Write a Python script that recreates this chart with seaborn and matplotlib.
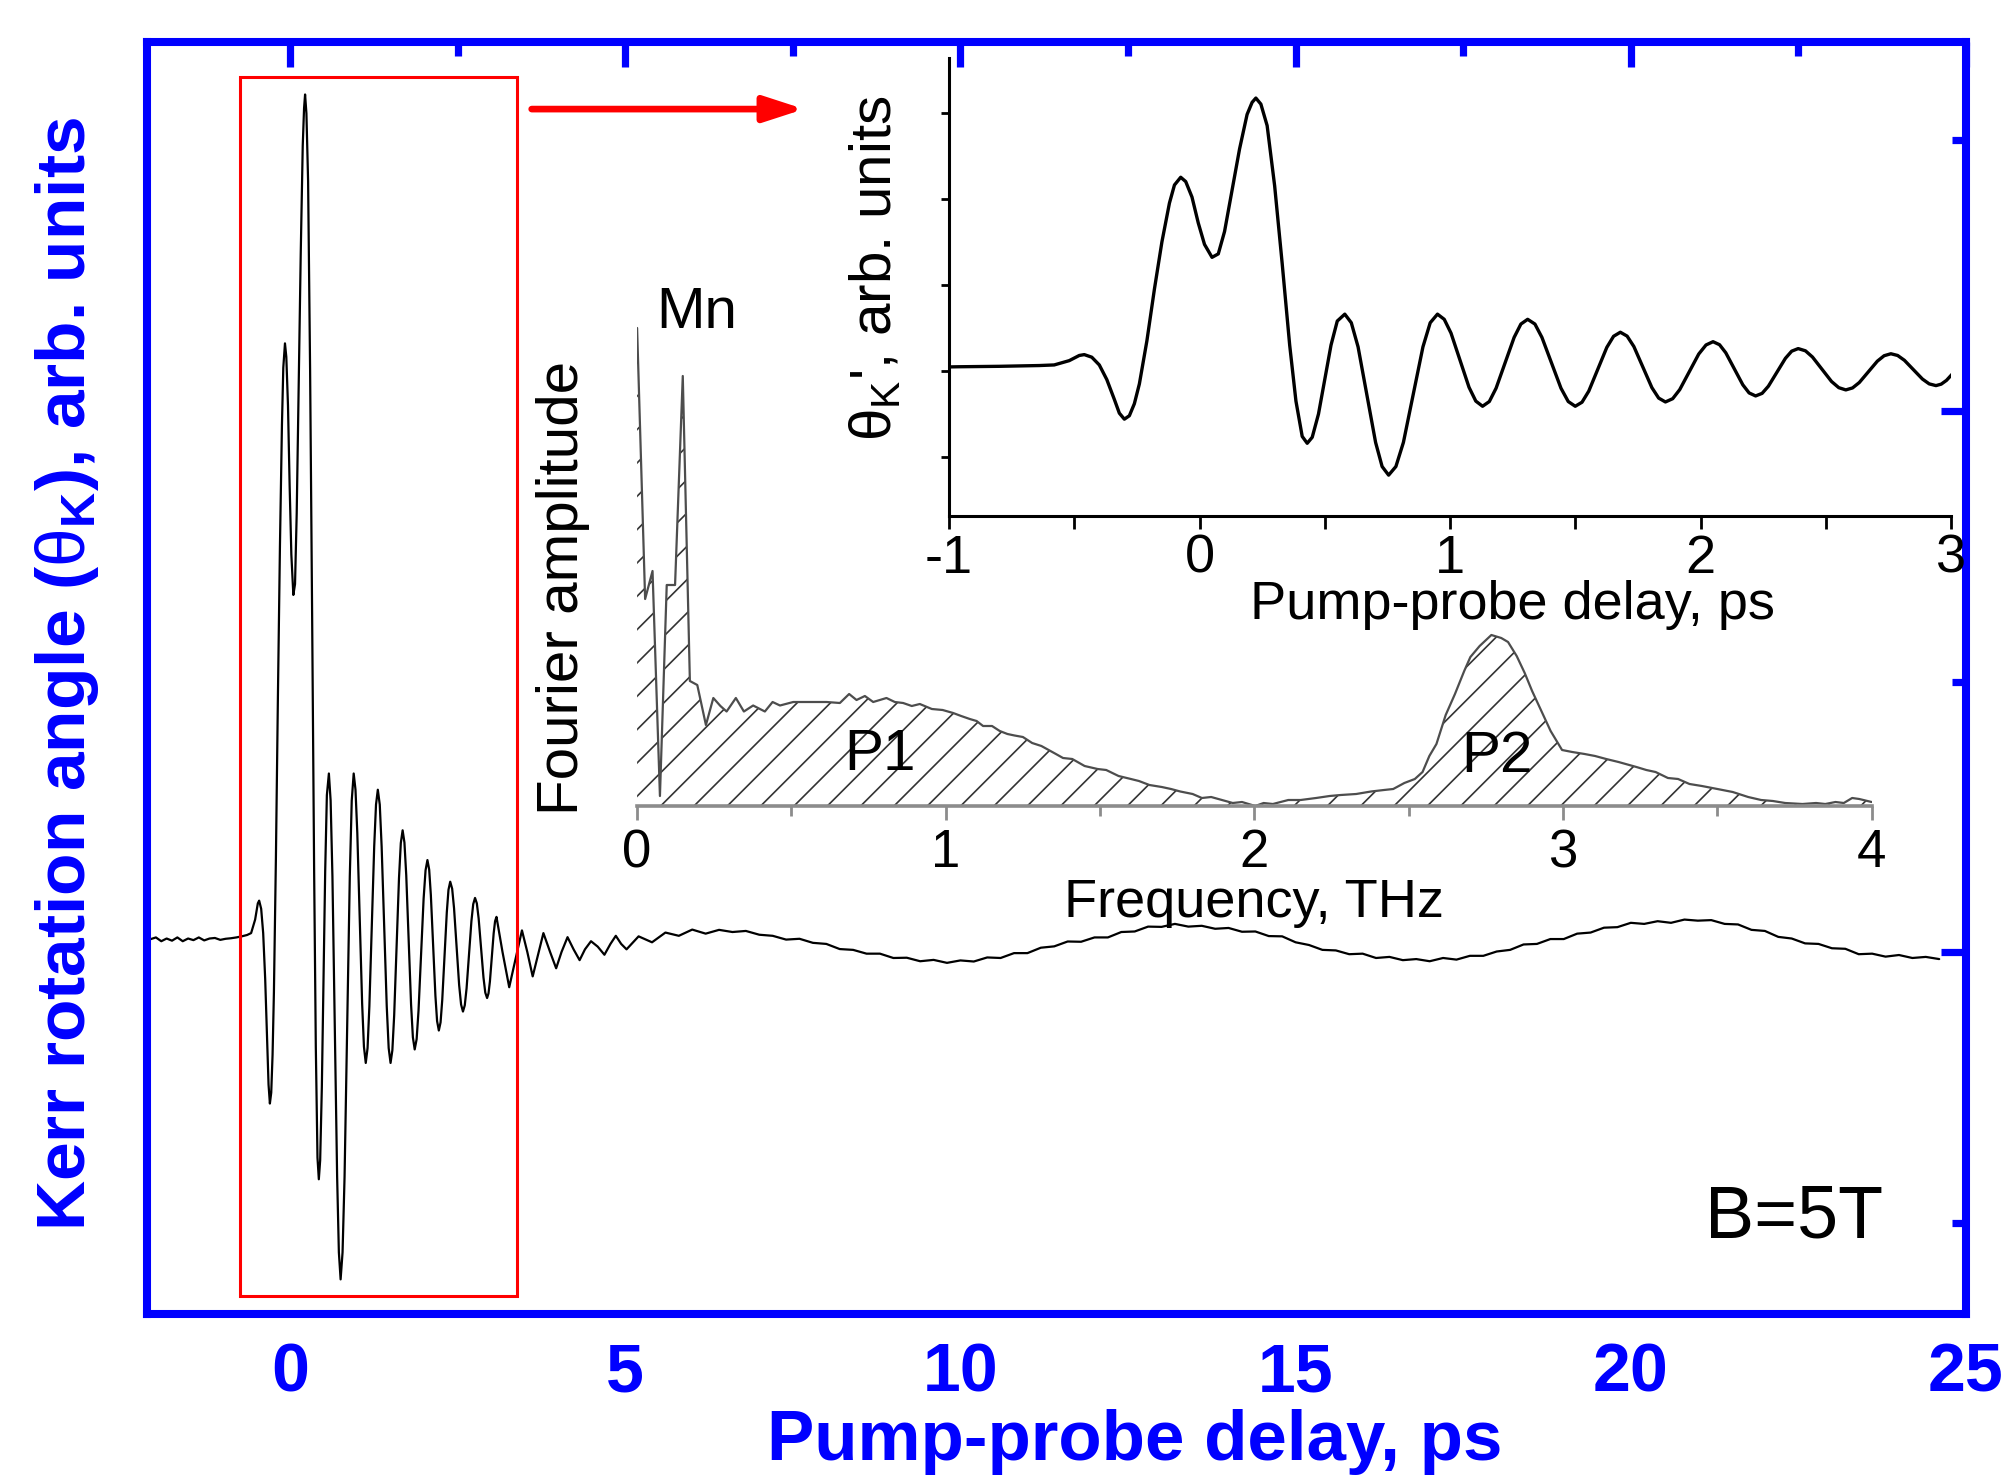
import numpy as np
import matplotlib
matplotlib.use("Agg")
import matplotlib.pyplot as plt
from matplotlib.patches import Rectangle
from matplotlib.ticker import MultipleLocator
import seaborn as sns

# ---- values ----
# Kerr rotation trace (pump-probe delay in ps, signal in arb. units)
pre_t = [-2.10, -2.00, -1.92, -1.84, -1.76, -1.68, -1.60, -1.52, -1.44, -1.36,
         -1.28, -1.20, -1.12, -1.04, -0.96, -0.88, -0.80, -0.72, -0.64, -0.58]
pre_v = [0.046, 0.054, 0.040, 0.050, 0.042, 0.054, 0.040, 0.050, 0.044, 0.054,
         0.043, 0.050, 0.052, 0.045, 0.049, 0.051, 0.054, 0.058, 0.063, 0.070]

burst_t = [-0.52, -0.48, -0.46, -0.43, -0.40, -0.37, -0.34,
           -0.32, -0.30, -0.28, -0.26, -0.24, -0.21, -0.18,
           -0.15, -0.12, -0.10, -0.075, -0.055, -0.03, -0.005,
           0.02, 0.05, 0.075, 0.10, 0.13, 0.16, 0.19,
           0.21, 0.225, 0.245, 0.27, 0.30, 0.33, 0.36,
           0.385, 0.41, 0.43, 0.45, 0.475, 0.50, 0.525,
           0.55, 0.58, 0.606, 0.633, 0.668, 0.703, 0.729,
           0.755, 0.784, 0.814, 0.853, 0.892, 0.921, 0.95,
           0.977, 1.004, 1.04, 1.076, 1.103, 1.13,
           1.157, 1.184, 1.22, 1.256, 1.283, 1.31,
           1.339, 1.367, 1.405, 1.443, 1.472, 1.50,
           1.527, 1.554, 1.59, 1.626, 1.653, 1.68,
           1.707, 1.734, 1.77, 1.806, 1.833, 1.86,
           1.889, 1.917, 1.955, 1.993, 2.022, 2.05,
           2.076, 2.101, 2.135, 2.169, 2.194, 2.22,
           2.246, 2.271, 2.305, 2.339, 2.364, 2.39,
           2.419, 2.447, 2.485, 2.523, 2.552, 2.58,
           2.607, 2.634, 2.67, 2.706, 2.733, 2.76,
           2.787, 2.814, 2.85, 2.886, 2.913, 2.94,
           2.961, 2.982, 3.01, 3.038, 3.059, 3.08,
           3.17, 3.27, 3.37, 3.46, 3.54, 3.62, 3.70, 3.78,
           3.88, 3.97, 4.05, 4.14, 4.23, 4.32, 4.40, 4.49,
           4.59, 4.69, 4.78, 4.86, 4.94, 5.02]
burst_v = [0.12, 0.18, 0.19, 0.16, 0.07, -0.10, -0.33,
           -0.49, -0.56, -0.52, -0.38, -0.15, 0.35, 0.95,
           1.50, 1.95, 2.16, 2.25, 2.20, 2.02, 1.72,
           1.47, 1.32, 1.36, 1.62, 2.10, 2.58, 2.98,
           3.12, 3.17, 3.10, 2.85, 2.15, 1.25, 0.30,
           -0.35, -0.76, -0.84, -0.77, -0.50, -0.10, 0.30,
           0.58, 0.66, 0.56, 0.28, -0.275, -0.83, -1.11,
           -1.21, -1.11, -0.83, -0.275, 0.28, 0.56, 0.66,
           0.60, 0.44, 0.125, -0.19, -0.35, -0.41,
           -0.355, -0.20, 0.095, 0.39, 0.545, 0.60,
           0.545, 0.39, 0.095, -0.20, -0.355, -0.41,
           -0.363, -0.234, 0.02, 0.274, 0.403, 0.45,
           0.405, 0.284, 0.045, -0.194, -0.315, -0.36,
           -0.322, -0.217, -0.01, 0.197, 0.302, 0.34,
           0.305, 0.211, 0.025, -0.161, -0.255, -0.29,
           -0.26, -0.177, -0.015, 0.147, 0.23, 0.26,
           0.234, 0.162, 0.02, -0.122, -0.194, -0.22,
           -0.197, -0.134, -0.01, 0.114, 0.177, 0.20,
           0.18, 0.124, 0.015, -0.094, -0.15, -0.17,
           -0.153, -0.109, -0.02, 0.069, 0.114, 0.13,
           0.00, -0.13, -0.02, 0.08, 0.00, -0.09, -0.01, 0.07,
           0.00, -0.06, 0.00, 0.055, 0.01, -0.03, 0.01, 0.04,
           0.02, -0.01, 0.03, 0.06, 0.03, 0.01]

tail_t = np.round(np.arange(5.2, 24.61, 0.2), 1)
tail_v = [0.058, 0.036, 0.072, 0.060, 0.083, 0.068, 0.082, 0.074, 0.078, 0.064,
          0.060, 0.046, 0.049, 0.034, 0.030, 0.011, 0.008, -0.006, -0.006, -0.022,
          -0.021, -0.034, -0.029, -0.040, -0.031, -0.035, -0.020, -0.022, -0.004, -0.004,
          0.016, 0.021, 0.039, 0.038, 0.054, 0.054, 0.074, 0.076, 0.094, 0.093,
          0.104, 0.094, 0.097, 0.086, 0.089, 0.075, 0.076, 0.059, 0.058, 0.036,
          0.026, 0.008, 0.006, -0.008, -0.006, -0.022, -0.018, -0.030, -0.026, -0.034,
          -0.022, -0.028, -0.014, -0.014, 0.002, 0.008, 0.028, 0.030, 0.048, 0.048,
          0.068, 0.072, 0.090, 0.092, 0.108, 0.104, 0.114, 0.108, 0.120, 0.116,
          0.118, 0.104, 0.102, 0.082, 0.078, 0.056, 0.050, 0.032, 0.030, 0.014,
          0.012, -0.008, -0.006, -0.017, -0.011, -0.022, -0.018, -0.026]

# Fourier spectrum of the trace (THz, arb. units)
freq_thz = [0.0, 0.026, 0.05, 0.074, 0.096, 0.123, 0.148, 0.171, 0.195, 0.223,
            0.247, 0.27, 0.29, 0.32, 0.346, 0.376, 0.414, 0.439, 0.463, 0.506,
            0.56, 0.614, 0.657, 0.687, 0.711, 0.738, 0.765, 0.808, 0.835, 0.862,
            0.89, 0.916, 0.955, 0.99, 1.024, 1.05, 1.078, 1.10, 1.121, 1.15,
            1.175, 1.2, 1.223, 1.25, 1.28, 1.31, 1.357, 1.38, 1.41, 1.45,
            1.492, 1.52, 1.56, 1.6, 1.626, 1.66, 1.70, 1.73, 1.76, 1.80,
            1.83, 1.86, 1.895, 1.93, 1.96, 2.003, 2.03, 2.06, 2.11, 2.15,
            2.2, 2.244, 2.28, 2.33, 2.378, 2.42, 2.45, 2.486, 2.52, 2.545,
            2.567, 2.59, 2.62, 2.65, 2.68, 2.70, 2.73, 2.768, 2.80, 2.822,
            2.85, 2.876, 2.90, 2.93, 2.96, 2.997, 3.03, 3.07, 3.104, 3.14,
            3.18, 3.238, 3.27, 3.30, 3.34, 3.373, 3.41, 3.45, 3.507, 3.55,
            3.6, 3.642, 3.68, 3.72, 3.776, 3.82, 3.85, 3.883, 3.91, 3.937,
            3.96, 4.0]
fourier_amp = [4.78, 2.07, 2.35, 0.10, 2.21, 2.21, 4.30, 1.25, 1.21, 0.81,
               1.08, 1.00, 0.945, 1.08, 0.945, 1.005, 0.945, 1.04, 1.005, 1.04,
               1.04, 1.04, 1.03, 1.12, 1.06, 1.10, 1.04, 1.08, 1.04, 1.03,
               1.00, 1.02, 0.97, 0.96, 0.93, 0.90, 0.87, 0.85, 0.80, 0.80,
               0.75, 0.72, 0.705, 0.69, 0.63, 0.60, 0.52, 0.48, 0.47, 0.40,
               0.37, 0.36, 0.30, 0.27, 0.25, 0.21, 0.19, 0.17, 0.145, 0.12,
               0.08, 0.09, 0.06, 0.03, 0.04, 0.0, 0.03, 0.02, 0.06, 0.06,
               0.08, 0.10, 0.11, 0.12, 0.145, 0.16, 0.17, 0.23, 0.27, 0.34,
               0.50, 0.62, 0.91, 1.12, 1.35, 1.49, 1.60, 1.71, 1.68, 1.64,
               1.50, 1.33, 1.15, 0.95, 0.75, 0.56, 0.54, 0.52, 0.50, 0.47,
               0.44, 0.39, 0.36, 0.34, 0.28, 0.27, 0.22, 0.20, 0.166, 0.14,
               0.09, 0.06, 0.05, 0.03, 0.02, 0.03, 0.02, 0.04, 0.03, 0.08,
               0.07, 0.04]

main_ticks = [0, 5, 10, 15, 20, 25]
inset_ticks = [-1, 0, 1, 2, 3]
freq_ticks = [0, 1, 2, 3, 4]

BLUE = "#0000ff"

sns.set_theme(style="white")
plt.rcParams["font.family"] = ["Liberation Sans", "DejaVu Sans"]
plt.rcParams["mathtext.fontset"] = "custom"
plt.rcParams["mathtext.rm"] = "Liberation Sans"
plt.rcParams["mathtext.it"] = "Liberation Sans:italic"
plt.rcParams["mathtext.bf"] = "Liberation Sans:bold"
plt.rcParams["hatch.linewidth"] = 0.6
plt.rcParams["text.color"] = "black"
plt.rcParams["axes.labelcolor"] = "black"

delay = np.concatenate([pre_t, burst_t, tail_t])
kerr = np.concatenate([pre_v, burst_v, tail_v])

W, H = 2006, 1476
fig = plt.figure(figsize=(W / 200, H / 200), dpi=200)


def box(l, t, r, b):
    # pixel box (left, top, right, bottom) -> figure fractions
    return [l / W, 1 - b / H, (r - l) / W, (b - t) / H]


# ---- main panel ----
ax = fig.add_axes(box(147, 42, 1966, 1314))
sns.lineplot(x=delay, y=kerr, ax=ax, color="black", lw=0.8, estimator=None, sort=False)
ax.set_xlim(-2.133, 25)
ax.set_ylim(-1.338, 3.364)
ax.set_xticks(main_ticks)
ax.set_xticklabels([str(t) for t in main_ticks], fontweight="bold")
ax.xaxis.set_minor_locator(MultipleLocator(2.5))
ax.yaxis.set_major_locator(MultipleLocator(2))
ax.yaxis.set_minor_locator(MultipleLocator(1))
ax.tick_params(which="both", direction="in", top=True, right=True, color=BLUE,
               width=2.6, labelcolor=BLUE, labelsize=24.5, pad=10, labelleft=False)
ax.tick_params(which="major", length=9)
ax.tick_params(which="minor", length=5)
for s in ax.spines.values():
    s.set_color(BLUE)
    s.set_linewidth(2.9)
ax.set_xlabel("Pump-probe delay, ps", color=BLUE, fontsize=25.5, fontweight="bold")
ax.xaxis.label.set_va("center")
ax.xaxis.set_label_coords(0.543, -0.1006)
ax.set_ylabel(r"Kerr rotation angle ($\mathrm{\theta}_{\mathbf{K}}$), arb. units",
              color=BLUE, fontsize=25, fontweight="bold")
ax.yaxis.label.set_va("center")
ax.yaxis.set_label_coords(-0.044, 0.503)

ax.add_patch(Rectangle((-0.74, -1.272), 4.13, 4.508, fill=False, ec="red", lw=1.1, zorder=4))
ax.annotate("", xy=(7.667, 3.116), xytext=(3.605, 3.116),
            arrowprops=dict(arrowstyle="-|>,head_length=0.4,head_width=0.13",
                            color="red", lw=2.4, mutation_scale=30,
                            shrinkA=0, shrinkB=0, capstyle="round"))
ax.text(0.9055, 0.0755, "B=5T", transform=ax.transAxes, fontsize=26.5,
        ha="center", va="center", color="black")

# ---- Fourier spectrum inset ----
axf = fig.add_axes(box(637.1, 306, 1871.6, 806), facecolor="none")
axf.fill_between(freq_thz, 0, fourier_amp, facecolor="none", edgecolor="0.2",
                 hatch="//", lw=0)
sns.lineplot(x=freq_thz, y=fourier_amp, ax=axf, color="0.3", lw=0.8,
             estimator=None, sort=False)
axf.set_xlim(0, 4)
axf.set_ylim(0, 5)
axf.set_yticks([])
axf.set_xticks(freq_ticks)
axf.set_xticklabels([str(t) for t in freq_ticks])
axf.xaxis.set_minor_locator(MultipleLocator(0.5))
axf.tick_params(axis="x", which="both", direction="out", bottom=True, color="0.55",
                width=1.0, labelsize=19, pad=3, labelcolor="black")
axf.tick_params(axis="x", which="major", length=5)
axf.tick_params(axis="x", which="minor", length=3.5)
for side in ["left", "top", "right"]:
    axf.spines[side].set_visible(False)
axf.spines["bottom"].set_color("0.55")
axf.spines["bottom"].set_linewidth(1.3)
axf.set_xlabel("Frequency, THz", fontsize=19.5, color="black")
axf.xaxis.label.set_va("center")
axf.xaxis.set_label_coords(0.4996, -0.195)
axf.set_ylabel("Fourier amplitude", fontsize=21, color="black")
axf.yaxis.label.set_va("center")
axf.yaxis.set_label_coords(-0.06, 0.436)
axf.text(0.194, 4.93, "Mn", fontsize=21, ha="center", va="center", color="black")
axf.text(0.787, 0.51, "P1", fontsize=21, ha="center", va="center", color="black")
axf.text(2.787, 0.49, "P2", fontsize=21, ha="center", va="center", color="black")

# ---- zoomed time-domain inset ----
axi = fig.add_axes(box(949, 57.6, 1951, 515.6), facecolor="none")
sns.lineplot(x=delay, y=kerr, ax=axi, color="black", lw=1.2, estimator=None, sort=False)
axi.set_xlim(-1, 3)
axi.set_ylim(-1.68, 3.64)
axi.set_xticks(inset_ticks)
axi.set_xticklabels([str(t) for t in inset_ticks])
axi.xaxis.set_minor_locator(MultipleLocator(0.5))
axi.yaxis.set_major_locator(MultipleLocator(1))
axi.tick_params(which="both", direction="out", bottom=True, left=True, color="black",
                width=1.0, length=4.5, labelsize=19.5, pad=2, labelleft=False,
                labelcolor="black")
axi.tick_params(axis="y", length=3)
for side in ["top", "right"]:
    axi.spines[side].set_visible(False)
for side in ["left", "bottom"]:
    axi.spines[side].set_color("black")
    axi.spines[side].set_linewidth(1.1)
axi.set_xlabel("Pump-probe delay, ps", fontsize=19.5, color="black")
axi.xaxis.label.set_va("center")
axi.xaxis.set_label_coords(0.562, -0.195)
axi.set_ylabel(r"$\mathrm{\theta}_{\mathrm{K}}$', arb. units", fontsize=21, color="black")
axi.yaxis.label.set_va("center")
axi.yaxis.set_label_coords(-0.073, 0.539)

fig.savefig("out.png", dpi=200)
